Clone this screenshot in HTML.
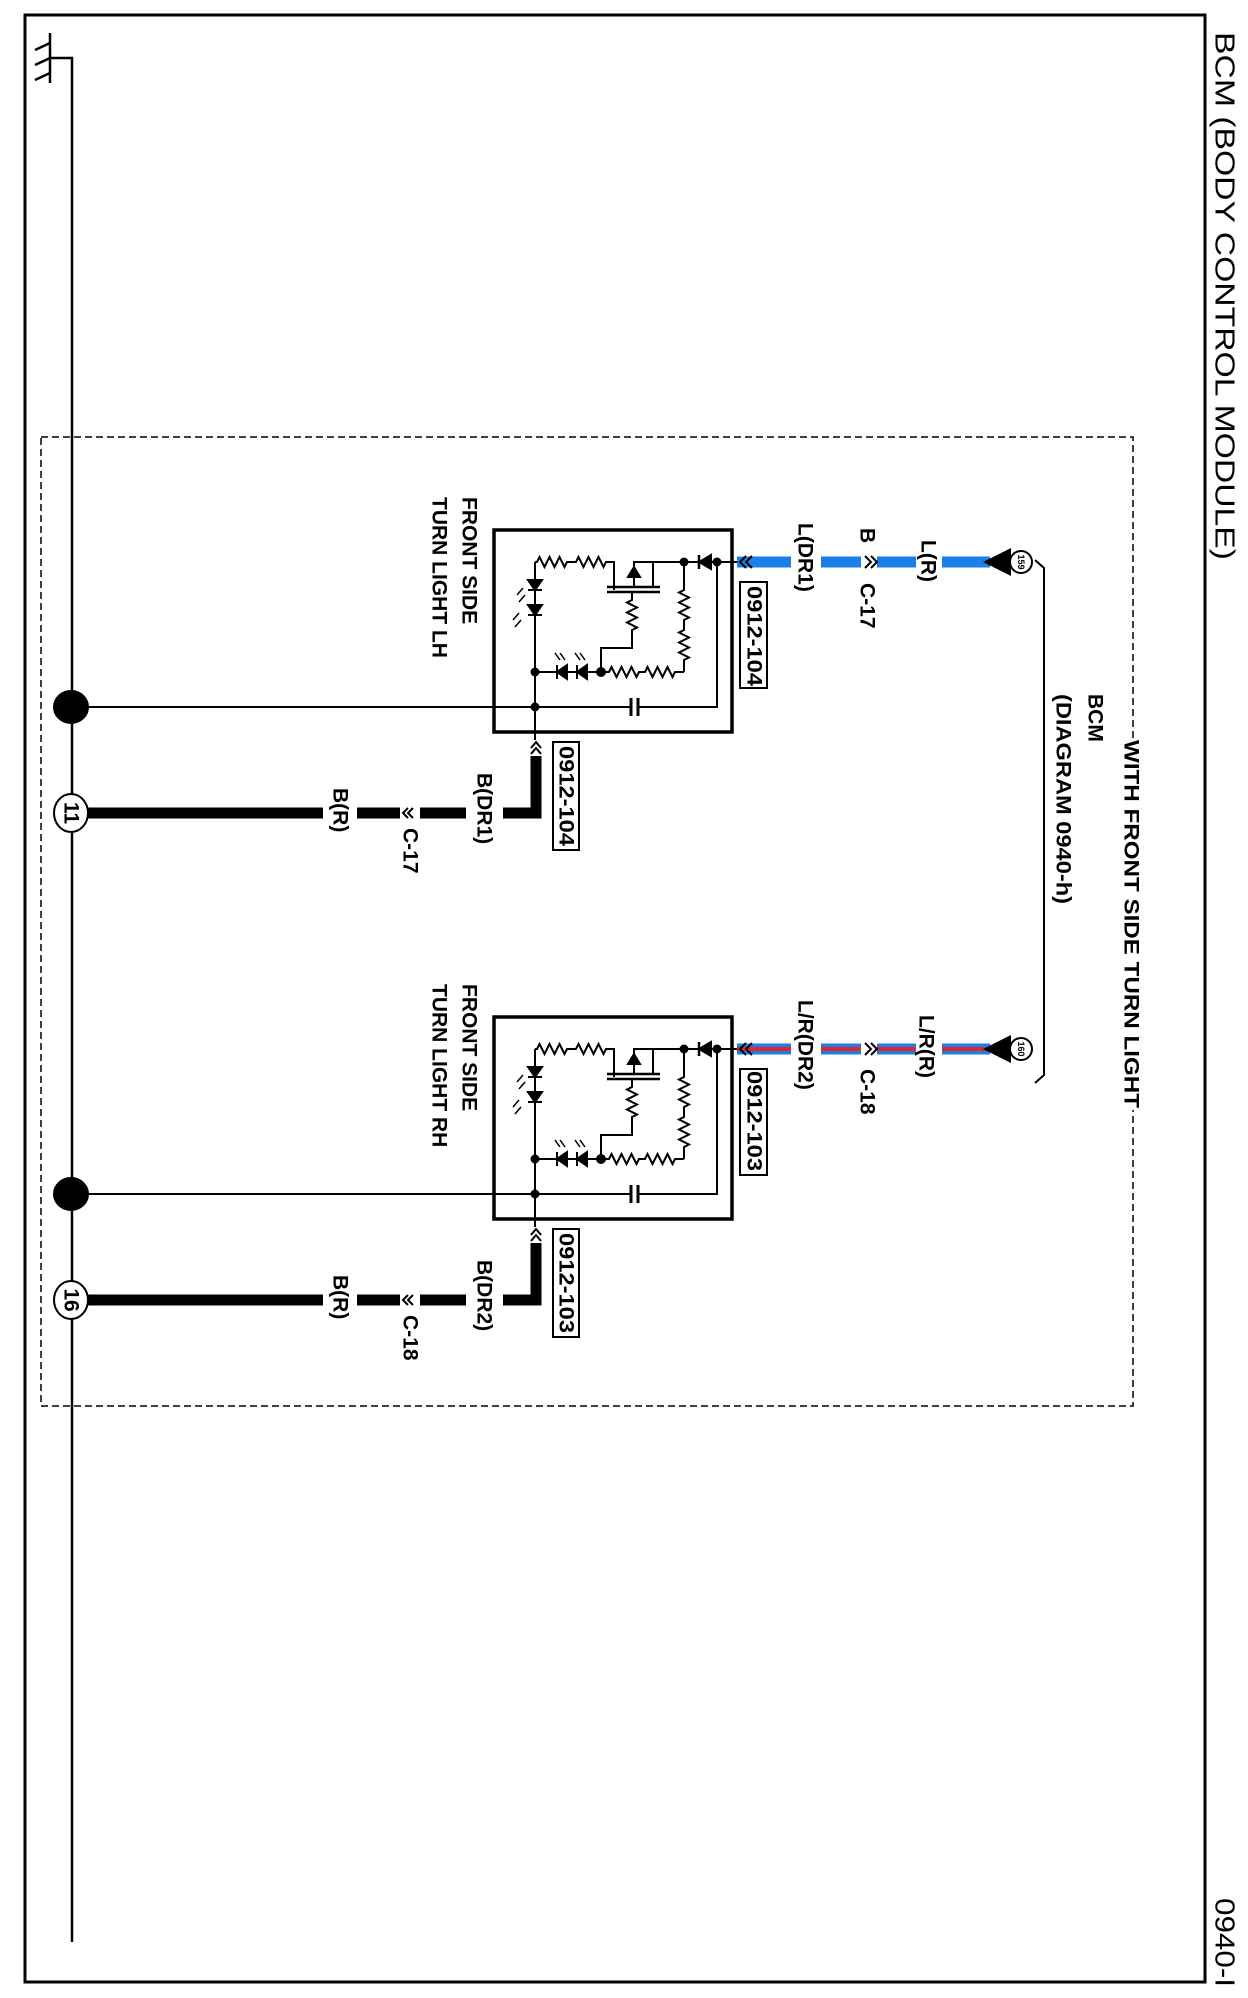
<!DOCTYPE html>
<html><head><meta charset="utf-8"><style>
html,body{margin:0;padding:0;background:#fff;}
svg{display:block;}
text{font-family:"Liberation Sans",Arial,sans-serif;fill:#000;}
.l{font-size:21px;font-weight:bold;}
</style></head><body>
<svg width="1248" height="1998" viewBox="0 0 1248 1998" xmlns="http://www.w3.org/2000/svg">
<defs>
<g id="circ" stroke="#000" fill="none" stroke-width="2">
  <rect x="494" y="530" width="238" height="202" stroke-width="3.5"/>
  <path d="M535 562 V740"/>
  <path d="M535 562 H537 l2.5,-5 l5,10 l5,-10 l5,10 l5,-10 l5,10 l2.5,-5 H576 l2.5,-5 l5,10 l5,-10 l5,10 l5,-10 l5,10 l2.5,-5 H614 V590"/>
  <path d="M607 587 H660 M607 592 H660" stroke-width="2.5"/>
  <path d="M634 587 V562 H717 M653 587 V562"/>
  <path d="M632 592 V600 l-5,2.5 l10,5 l-10,5 l10,5 l-10,5 l10,5 l-5,2.5 V648 H601 V672"/>
  <path d="M684 562 V590 l-5,2.5 l10,5 l-10,5 l10,5 l-10,5 l10,5 l-5,2.5 V630 l-5,2.5 l10,5 l-10,5 l10,5 l-10,5 l10,5 l-5,2.5 V672"/>
  <path d="M535 672 H609 l2.5,-5 l5,10 l5,-10 l5,10 l5,-10 l5,10 l2.5,-5 H645 l2.5,-5 l5,10 l5,-10 l5,10 l5,-10 l5,10 l2.5,-5 H684"/>
  <path d="M535 707 H631 M638 707 H717 V562 H737"/>
  <path d="M631 698 V716 M638 698 V716" stroke-width="3"/>
  <path d="M634 567 l-6,10 h12 z" fill="#000"/>
  <path d="M699 562 l12,-7 v14 z" fill="#000"/><path d="M699 555 V569" stroke-width="2.5"/>
  <path d="M557 672 l10,-7 v14 z" fill="#000"/><path d="M557 665 V679"/>
  <path d="M577 672 l10,-7 v14 z" fill="#000"/><path d="M577 665 V679"/>
  <path d="M535 590 l-7,-10 h14 z" fill="#000"/><path d="M528 590 H542"/>
  <path d="M535 615 l-7,-10 h14 z" fill="#000"/><path d="M528 615 H542"/>
  <path d="M525 595 l-6,7 M523 588 l-6,7 M521 620 l-6,7 M519 613 l-6,7 M560 660 l-5,-7 M565 660 l-5,-7 M580 660 l-5,-7 M585 660 l-5,-7" stroke-width="1.5"/>
  <circle cx="535" cy="672" r="3.5" fill="#000"/>
  <circle cx="535" cy="707" r="3.5" fill="#000"/>
  <circle cx="601" cy="672" r="4" fill="#000"/>
  <circle cx="684" cy="562" r="3.5" fill="#000"/>
  <circle cx="717" cy="562" r="3.5" fill="#000"/>
  <path d="M71 707 H535"/>
  <ellipse cx="71" cy="707" rx="17" ry="16" fill="#000"/>
  <path d="M536 756 V813 H503 M466 813 H420 M400 813 H357 M323 813 H88" stroke-width="11"/>
  <path d="M531 748 l5,-6 l5,6 M531 754 l5,-6 l5,6 M413 808 l-5,5 l5,5 M408 808 l-5,5 l5,5" stroke-width="2"/>
  <rect x="553" y="742" width="26" height="108" stroke-width="2"/>
  <path d="M746 556 l-6,6 l6,6 M752 556 l-6,6 l6,6" stroke-width="2"/>
  <path d="M865 556 l6,6 l-6,6 M871 556 l6,6 l-6,6" stroke-width="2"/>
  <rect x="740" y="582" width="27" height="106" stroke-width="2"/>
  <path d="M983 562 l28,-14 v28 z" fill="#000" stroke="none"/>
  <circle cx="1021" cy="562" r="11" fill="#fff" stroke-width="2"/>
</g>
</defs>

<rect x="25" y="15" width="1180" height="1967" fill="none" stroke="#000" stroke-width="3"/>
<path d="M50 33 V83 M50 43 L35 50 M50 58 L35 65 M50 73 L35 80 M50 58 H72 V1942" stroke="#000" stroke-width="2.5" fill="none"/>
<rect x="41" y="437" width="1092" height="969" fill="none" stroke="#000" stroke-width="1.5" stroke-dasharray="7,4"/>
<rect x="1120" y="738" width="24" height="372" fill="#fff"/>
<text class="l" x="1131" y="740" transform="rotate(90 1131 740)" dominant-baseline="central" textLength="368" lengthAdjust="spacingAndGlyphs">WITH FRONT SIDE TURN LIGHT</text>
<path d="M1035 560 L1044 568 V1075 L1035 1083" stroke="#000" stroke-width="2" fill="none"/>
<text class="l" x="1095" y="694" transform="rotate(90 1095 694)" dominant-baseline="central">BCM</text>
<text class="l" x="1063" y="694" transform="rotate(90 1063 694)" dominant-baseline="central" textLength="210" lengthAdjust="spacingAndGlyphs">(DIAGRAM 0940-h)</text>

<text x="1225" y="32" transform="rotate(90 1225 32)" dominant-baseline="central" font-size="28" textLength="528" lengthAdjust="spacingAndGlyphs">BCM (BODY CONTROL MODULE)</text>
<text x="1225" y="1898" transform="rotate(90 1225 1898)" dominant-baseline="central" font-size="28" textLength="89" lengthAdjust="spacingAndGlyphs">0940-I</text>

<g>
<path d="M737 562 H791 M821 562 H861 M877 562 H916 M942 562 H990" stroke="#1a7fe6" stroke-width="11" fill="none"/>
<use href="#circ"/>
</g>
<g>
<path d="M737 1049 H791 M821 1049 H861 M877 1049 H916 M942 1049 H990" stroke="#1a7fe6" stroke-width="11" fill="none"/>
<path d="M737 1049 H791 M821 1049 H861 M877 1049 H916 M942 1049 H990" stroke="#e0262a" stroke-width="4" fill="none"/>
<use href="#circ" transform="translate(0 487)"/>
</g>

<g class="l">
<text x="1021" y="562" font-size="9" font-weight="bold" transform="rotate(90 1021 562)" text-anchor="middle" dominant-baseline="central">159</text>
<text x="1021" y="1049" font-size="9" font-weight="bold" transform="rotate(90 1021 1049)" text-anchor="middle" dominant-baseline="central">160</text>
<text x="805" y="523" transform="rotate(90 805 523)" dominant-baseline="central">L(DR1)</text>
<text x="867" y="528" transform="rotate(90 867 528)" dominant-baseline="central">B</text>
<text x="867" y="583" transform="rotate(90 867 583)" dominant-baseline="central">C-17</text>
<text x="928" y="540" transform="rotate(90 928 540)" dominant-baseline="central">L(R)</text>
<text x="754" y="586" transform="rotate(90 754 586)" dominant-baseline="central" textLength="100" lengthAdjust="spacingAndGlyphs">0912-104</text>
<text x="566" y="746" transform="rotate(90 566 746)" dominant-baseline="central" textLength="100" lengthAdjust="spacingAndGlyphs">0912-104</text>
<text x="484" y="773" transform="rotate(90 484 773)" dominant-baseline="central">B(DR1)</text>
<text x="340" y="788" transform="rotate(90 340 788)" dominant-baseline="central">B(R)</text>
<text x="410" y="828" transform="rotate(90 410 828)" dominant-baseline="central">C-17</text>
<text x="469" y="497" transform="rotate(90 469 497)" dominant-baseline="central">FRONT SIDE</text>
<text x="439" y="497" transform="rotate(90 439 497)" dominant-baseline="central">TURN LIGHT LH</text>

<text x="805" y="1000" transform="rotate(90 805 1000)" dominant-baseline="central">L/R(DR2)</text>
<text x="926" y="1015" transform="rotate(90 926 1015)" dominant-baseline="central">L/R(R)</text>
<text x="867" y="1069" transform="rotate(90 867 1069)" dominant-baseline="central">C-18</text>
<text x="754" y="1071" transform="rotate(90 754 1071)" dominant-baseline="central" textLength="100" lengthAdjust="spacingAndGlyphs">0912-103</text>
<text x="566" y="1233" transform="rotate(90 566 1233)" dominant-baseline="central" textLength="100" lengthAdjust="spacingAndGlyphs">0912-103</text>
<text x="484" y="1260" transform="rotate(90 484 1260)" dominant-baseline="central">B(DR2)</text>
<text x="340" y="1275" transform="rotate(90 340 1275)" dominant-baseline="central">B(R)</text>
<text x="410" y="1315" transform="rotate(90 410 1315)" dominant-baseline="central">C-18</text>
<text x="469" y="984" transform="rotate(90 469 984)" dominant-baseline="central">FRONT SIDE</text>
<text x="439" y="984" transform="rotate(90 439 984)" dominant-baseline="central">TURN LIGHT RH</text>
</g>

<ellipse cx="71" cy="813" rx="17" ry="19" fill="#fff" stroke="#000" stroke-width="2"/>
<text x="71" y="813" class="l" transform="rotate(90 71 813)" text-anchor="middle" dominant-baseline="central">11</text>
<ellipse cx="71" cy="1300" rx="17" ry="19" fill="#fff" stroke="#000" stroke-width="2"/>
<text x="71" y="1300" class="l" transform="rotate(90 71 1300)" text-anchor="middle" dominant-baseline="central">16</text>
</svg>
</body></html>
